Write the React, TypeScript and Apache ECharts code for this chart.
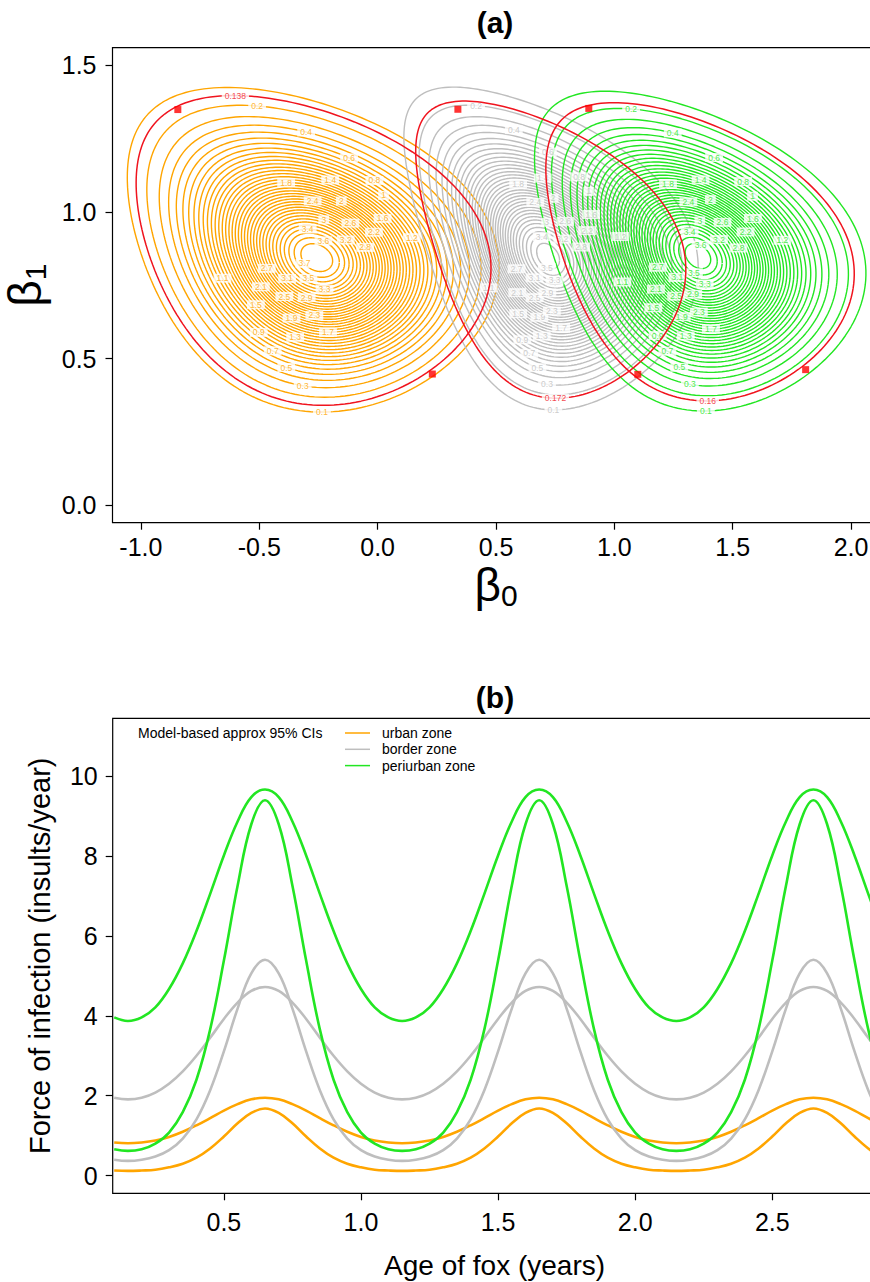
import React, { useEffect, useRef } from "react";
import * as echarts from "echarts";

// ---------------- shared ----------------
const FONT = "'Liberation Sans', Arial, Helvetica, sans-serif";
const zoneNames = ["urban zone", "border zone", "periurban zone"];
const zoneColors = ["#FFA500", "#BEBEBE", "#22E622"];
const redColor = "#F0141E";

// ---------------- panel (a): likelihood contours ----------------
const aXTicks = [-1, -0.5, 0, 0.5, 1, 1.5, 2];
const aYTicks = [0, 0.5, 1, 1.5];

const urbanLevels = [0.1, 0.2, 0.3, 0.4, 0.5, 0.6, 0.7, 0.8, 0.9, 1, 1.1, 1.2, 1.3, 1.4, 1.5, 1.6, 1.7, 1.8, 1.9, 2, 2.1, 2.2, 2.3, 2.4, 2.5, 2.6, 2.7, 2.8, 2.9, 3, 3.1, 3.2, 3.3, 3.4, 3.5, 3.6, 3.7];
const borderLevels = [0.1, 0.2, 0.3, 0.4, 0.5, 0.6, 0.7, 0.8, 0.9, 1, 1.1, 1.2, 1.3, 1.4, 1.5, 1.6, 1.7, 1.8, 1.9, 2, 2.1, 2.2, 2.3, 2.4, 2.5, 2.6, 2.7, 2.8, 2.9, 3, 3.1, 3.2, 3.3, 3.4, 3.5];
const periurbanLevels = [0.1, 0.2, 0.3, 0.4, 0.5, 0.6, 0.7, 0.8, 0.9, 1, 1.1, 1.2, 1.3, 1.4, 1.5, 1.6, 1.7, 1.8, 1.9, 2, 2.1, 2.2, 2.3, 2.4, 2.5, 2.6, 2.7, 2.8, 2.9, 3, 3.1, 3.2, 3.3, 3.4, 3.5, 3.6];
const zoneLevels = [urbanLevels, borderLevels, periurbanLevels];
const redLevels = [0.138, 0.172, 0.16];
const redLabelAtTop = [true, false, false];

// density surface
const peakDensity = [3.8, 3.58, 3.68];
const peakB0 = [-0.257, 0.72, 1.353]; // location of the innermost ring
const peakB1 = [0.844, 0.849, 0.849];
const centreB0 = [-0.262, 0.76, 1.384]; // centre of the outermost (0.1) ring
const centreB1 = [0.868, 0.868, 0.863];
const halfWidthB0 = [0.782, 0.608, 0.69];
const halfHeightB1 = [0.553, 0.549, 0.545];
const correlation = [-0.25, -0.34, -0.3];
const skewB0 = [-0.144, -0.188, -0.19];
const skewB1 = [0.045, 0.06, 0.035];

// red squares on the red contours
const squareB0 = [-0.844, 0.231, 0.339, 1.099, 0.892, 1.808];
const squareB1 = [1.349, 0.447, 1.35, 0.446, 1.353, 0.462];

// ---------------- panel (b): force of infection ----------------
const bXTicks = [0.5, 1, 1.5, 2, 2.5];
const bYTicks = [0, 2, 4, 6, 8, 10];
const ageYears = [0.1, 0.15, 0.2, 0.25, 0.3, 0.35, 0.4, 0.45, 0.5, 0.55, 0.6, 0.65, 0.7, 0.75, 0.8, 0.85, 0.9, 0.95, 1, 1.05, 1.1, 1.15, 1.2, 1.25, 1.3, 1.35, 1.4, 1.45, 1.5, 1.55, 1.6, 1.65, 1.7, 1.75, 1.8, 1.85, 1.9, 1.95, 2, 2.05, 2.1, 2.15, 2.2, 2.25, 2.3, 2.35, 2.4, 2.45, 2.5, 2.55, 2.6, 2.65, 2.7, 2.75, 2.8, 2.85, 2.9, 2.95];
const urbanBroad = [0.83,
  0.81, 0.83, 0.88, 0.97, 1.10, 1.26, 1.44, 1.63, 1.79, 1.91, 1.95, 1.91, 1.79, 1.63, 1.44, 1.26, 1.10, 0.97, 0.88, 0.83,
  0.81, 0.83, 0.88, 0.97, 1.10, 1.26, 1.44, 1.63, 1.79, 1.91, 1.95, 1.91, 1.79, 1.63, 1.44, 1.26, 1.10, 0.97, 0.88, 0.83,
  0.81, 0.83, 0.88, 0.97, 1.10, 1.26, 1.44, 1.63, 1.79, 1.91, 1.95, 1.91, 1.79, 1.63, 1.44, 1.26, 1.10];
const urbanPeaked = [0.13,
  0.12, 0.13, 0.15, 0.21, 0.30, 0.45, 0.68, 0.98, 1.31, 1.57, 1.68, 1.57, 1.31, 0.98, 0.68, 0.45, 0.30, 0.21, 0.15, 0.13,
  0.12, 0.13, 0.15, 0.21, 0.30, 0.45, 0.68, 0.98, 1.31, 1.57, 1.68, 1.57, 1.31, 0.98, 0.68, 0.45, 0.30, 0.21, 0.15, 0.13,
  0.12, 0.13, 0.15, 0.21, 0.30, 0.45, 0.68, 0.98, 1.31, 1.57, 1.68, 1.57, 1.31, 0.98, 0.68, 0.45, 0.30];
const borderBroad = [1.95,
  1.91, 1.95, 2.08, 2.30, 2.61, 3.00, 3.45, 3.92, 4.33, 4.62, 4.72, 4.62, 4.33, 3.92, 3.45, 3.00, 2.61, 2.30, 2.08, 1.95,
  1.91, 1.95, 2.08, 2.30, 2.61, 3.00, 3.45, 3.92, 4.33, 4.62, 4.72, 4.62, 4.33, 3.92, 3.45, 3.00, 2.61, 2.30, 2.08, 1.95,
  1.91, 1.95, 2.08, 2.30, 2.61, 3.00, 3.45, 3.92, 4.33, 4.62, 4.72, 4.62, 4.33, 3.92, 3.45, 3.00, 2.61];
const borderPeaked = [0.40,
  0.37, 0.40, 0.48, 0.64, 0.93, 1.41, 2.14, 3.11, 4.18, 5.06, 5.40, 5.06, 4.18, 3.11, 2.14, 1.41, 0.93, 0.64, 0.48, 0.40,
  0.37, 0.40, 0.48, 0.64, 0.93, 1.41, 2.14, 3.11, 4.18, 5.06, 5.40, 5.06, 4.18, 3.11, 2.14, 1.41, 0.93, 0.64, 0.48, 0.40,
  0.37, 0.40, 0.48, 0.64, 0.93, 1.41, 2.14, 3.11, 4.18, 5.06, 5.40, 5.06, 4.18, 3.11, 2.14, 1.41, 0.93];
const periurbanBroad = [3.96,
  3.87, 3.96, 4.21, 4.67, 5.31, 6.12, 7.05, 8.01, 8.86, 9.47, 9.66, 9.47, 8.86, 8.01, 7.05, 6.12, 5.31, 4.67, 4.21, 3.96,
  3.87, 3.96, 4.21, 4.67, 5.31, 6.12, 7.05, 8.01, 8.86, 9.47, 9.66, 9.47, 8.86, 8.01, 7.05, 6.12, 5.31, 4.67, 4.21, 3.96,
  3.87, 3.96, 4.21, 4.67, 5.31, 6.12, 7.05, 8.01, 8.86, 9.47, 9.66, 9.47, 8.86, 8.01, 7.05, 6.12, 5.31];
const periurbanPeaked = [0.66,
  0.62, 0.66, 0.80, 1.08, 1.59, 2.40, 3.66, 5.38, 7.25, 8.79, 9.39, 8.79, 7.25, 5.38, 3.66, 2.40, 1.59, 1.08, 0.80, 0.66,
  0.62, 0.66, 0.80, 1.08, 1.59, 2.40, 3.66, 5.38, 7.25, 8.79, 9.39, 8.79, 7.25, 5.38, 3.66, 2.40, 1.59, 1.08, 0.80, 0.66,
  0.62, 0.66, 0.80, 1.08, 1.59, 2.40, 3.66, 5.38, 7.25, 8.79, 9.39, 8.79, 7.25, 5.38, 3.66, 2.40, 1.59];
const bandCurves = [
  [urbanBroad, urbanPeaked],
  [borderBroad, borderPeaked],
  [periurbanBroad, periurbanPeaked],
];
const legendTitle = "Model-based approx 95% CIs";

// label direction fan (style only): angle from vertical, radians
const labelFan = [0, 0.45, 0.9, 0.2, 0.65, 1.1, 0.35, 0.8];

// contour ring of a zone's density at a level
function contourRing(z: number, level: number): number[][] {
  const s = Math.sqrt(Math.log(peakDensity[z] / level) / Math.log(peakDensity[z] / 0.1));
  const r = correlation[z];
  const q = Math.sqrt(1 - r * r);
  const offX = centreB0[z] - peakB0[z];
  const offY = centreB1[z] - peakB1[z];
  const pts: number[][] = [];
  const n = 200;
  for (let i = 0; i <= n; i++) {
    const t = (2 * Math.PI * i) / n;
    const c = Math.cos(t);
    const v = r * c + q * Math.sin(t);
    pts.push([
      peakB0[z] + s * halfWidthB0[z] * c + s * s * (skewB0[z] * v * v + offX),
      peakB1[z] + s * halfHeightB1[z] * v + s * s * (skewB1[z] * c * c + offY),
    ]);
  }
  return pts;
}

// point of a ring furthest along a direction (in screen-like proportions)
function labelPoint(pts: number[][], sign: number, ang: number): number[] {
  const sx = 236.7 * Math.sin(ang);
  const sy = 293.2 * Math.cos(ang);
  let best = pts[0];
  let bestV = -Infinity;
  for (const p of pts) {
    const v = sign * (p[0] * sx + p[1] * sy);
    if (v > bestV) {
      bestV = v;
      best = p;
    }
  }
  return best;
}

function fmtLevel(v: number): string {
  return String(v);
}

export default function App() {
  const ref = useRef<HTMLDivElement>(null);

  useEffect(() => {
    if (!ref.current) return;
    const chart = echarts.init(ref.current, undefined, { renderer: "svg" });

    const series: any[] = [];
    const contourLabel = (color: string) => ({
      show: true,
      position: "inside",
      formatter: "{b}",
      fontSize: 8.5,
      fontFamily: FONT,
      color,
      backgroundColor: "#fff",
      padding: [0, 3],
      lineHeight: 9,
    });

    // contours per zone
    for (let z = 0; z < 3; z++) {
      const labelData: any[] = [];
      zoneLevels[z].forEach((lv, i) => {
        const ring = contourRing(z, lv);
        series.push({
          type: "line",
          xAxisIndex: 0,
          yAxisIndex: 0,
          data: ring,
          showSymbol: false,
          symbol: "none",
          silent: true,
          smooth: false,
          lineStyle: { color: zoneColors[z], width: 1.4 },
          z: 2,
        });
        const sign = i % 2 === 1 ? 1 : -1;
        const ang = i < 8 ? 0.08 * i : labelFan[Math.floor(i / 2) % labelFan.length];
        labelData.push({ name: fmtLevel(lv), value: labelPoint(ring, sign, ang) });
      });
      series.push({
        type: "scatter",
        xAxisIndex: 0,
        yAxisIndex: 0,
        data: labelData,
        symbolSize: 1,
        silent: true,
        itemStyle: { color: "rgba(0,0,0,0)" },
        label: contourLabel(zoneColors[z]),
        z: 2,
      });
    }

    // red contours
    const redLabelData: any[] = [];
    for (let z = 0; z < 3; z++) {
      const ring = contourRing(z, redLevels[z]);
      series.push({
        type: "line",
        xAxisIndex: 0,
        yAxisIndex: 0,
        data: ring,
        showSymbol: false,
        symbol: "none",
        silent: true,
        lineStyle: { color: redColor, width: 1.5 },
        z: 3,
      });
      redLabelData.push({ name: fmtLevel(redLevels[z]), value: labelPoint(ring, redLabelAtTop[z] ? 1 : -1, 0) });
    }
    series.push({
      type: "scatter",
      xAxisIndex: 0,
      yAxisIndex: 0,
      data: redLabelData,
      symbolSize: 1,
      silent: true,
      itemStyle: { color: "rgba(0,0,0,0)" },
      label: contourLabel(redColor),
      z: 3,
    });
    series.push({
      type: "scatter",
      xAxisIndex: 0,
      yAxisIndex: 0,
      data: squareB0.map((b0, i) => [b0, squareB1[i]]),
      symbol: "rect",
      symbolSize: 7,
      silent: true,
      itemStyle: { color: "#FF0000" },
      z: 4,
    });

    // panel (b) curves
    for (let z = 0; z < 3; z++) {
      for (const curve of bandCurves[z]) {
        series.push({
          type: "line",
          xAxisIndex: 1,
          yAxisIndex: 1,
          data: ageYears.map((a, i) => [a, curve[i]]),
          showSymbol: false,
          symbol: "none",
          smooth: 0.4,
          silent: true,
          lineStyle: { color: zoneColors[z], width: 2.6 },
          z: 2,
        });
      }
    }

    const tickLabel = { fontSize: 25, color: "#000", fontFamily: FONT };
    const tickStyle = { color: "#000", width: 1.2 };
    const hiddenLine = { show: false, onZero: false };
    const betaRich = {
      b: { fontSize: 46, fontFamily: FONT, color: "#000", lineHeight: 52 },
      s: { fontSize: 30, fontFamily: FONT, color: "#000", verticalAlign: "bottom", lineHeight: 52 },
    };

    const option: any = {
      animation: false,
      backgroundColor: "#fff",
      grid: [
        { left: 112.5, top: 47.7, width: 767, height: 475, outerBoundsMode: "none", containLabel: false, show: true, borderColor: "#000", borderWidth: 1.2, backgroundColor: "transparent" },
        { left: 112.7, top: 718.3, width: 785.7, height: 475, outerBoundsMode: "none", containLabel: false, show: true, borderColor: "#000", borderWidth: 1.2, backgroundColor: "transparent" },
      ],
      xAxis: [
        {
          gridIndex: 0,
          type: "value",
          min: -1.12,
          max: 2.12,
          axisLine: hiddenLine,
          axisTick: { show: true, length: 7, customValues: aXTicks, lineStyle: tickStyle },
          axisLabel: { ...tickLabel, customValues: aXTicks, margin: 12, formatter: (v: number) => v.toFixed(1) },
          splitLine: { show: false },
          name: "{b|β}{s|0}",
          nameLocation: "middle",
          nameGap: 36,
          nameMoveOverlap: false,
          nameTextStyle: { rich: betaRich },
        },
        {
          gridIndex: 1,
          type: "value",
          min: 0.0945,
          max: 2.96,
          axisLine: hiddenLine,
          axisTick: { show: true, length: 7, customValues: bXTicks, lineStyle: tickStyle },
          axisLabel: { ...tickLabel, customValues: bXTicks, margin: 16, formatter: (v: number) => v.toFixed(1) },
          splitLine: { show: false },
          name: "Age of fox (years)",
          nameLocation: "middle",
          nameGap: 58,
          nameTextStyle: { fontSize: 28, fontFamily: FONT, color: "#000", padding: [0, 22, 0, 0] },
        },
      ],
      yAxis: [
        {
          gridIndex: 0,
          type: "value",
          min: -0.06,
          max: 1.56,
          axisLine: hiddenLine,
          axisTick: { show: true, length: 7, customValues: aYTicks, lineStyle: tickStyle },
          axisLabel: { ...tickLabel, customValues: aYTicks, margin: 16, formatter: (v: number) => v.toFixed(1) },
          splitLine: { show: false },
          name: "{b|β}{s|1}",
          nameLocation: "middle",
          nameRotate: 90,
          nameGap: 60,
          nameTextStyle: { rich: betaRich },
        },
        {
          gridIndex: 1,
          type: "value",
          min: -0.44,
          max: 11.44,
          axisLine: hiddenLine,
          axisTick: { show: true, length: 7, customValues: bYTicks, lineStyle: tickStyle },
          axisLabel: { ...tickLabel, customValues: bYTicks, margin: 15, formatter: (v: number) => String(v) },
          splitLine: { show: false },
          name: "Force of infection (insults/year)",
          nameLocation: "middle",
          nameRotate: 90,
          nameGap: 58,
          nameTextStyle: { fontSize: 29, fontFamily: FONT, color: "#000" },
        },
      ],
      graphic: [
        { type: "text", x: 495, y: 22, style: { text: "(a)", fontSize: 30, fontWeight: "bold", fontFamily: FONT, fill: "#000", align: "center", verticalAlign: "middle" } },
        { type: "text", x: 495, y: 697, style: { text: "(b)", fontSize: 30, fontWeight: "bold", fontFamily: FONT, fill: "#000", align: "center", verticalAlign: "middle" } },
        { type: "text", x: 138, y: 733, style: { text: legendTitle, fontSize: 14, fontFamily: FONT, fill: "#000", align: "left", verticalAlign: "middle" } },
        ...zoneNames.flatMap((nm, i) => [
          { type: "line", shape: { x1: 345, y1: 733 + i * 16.3, x2: 370, y2: 733 + i * 16.3 }, style: { stroke: zoneColors[i], lineWidth: 1.5 } },
          { type: "text", x: 382, y: 733 + i * 16.3, style: { text: nm, fontSize: 14, fontFamily: FONT, fill: "#000", align: "left", verticalAlign: "middle" } },
        ]),
      ],
      series,
    };

    chart.setOption(option);
    return () => chart.dispose();
  }, []);

  return (
    <div
      ref={ref}
      style={{ position: "absolute", left: 0, top: 0, width: 870, height: 1282, background: "#fff" }}
    />
  );
}
